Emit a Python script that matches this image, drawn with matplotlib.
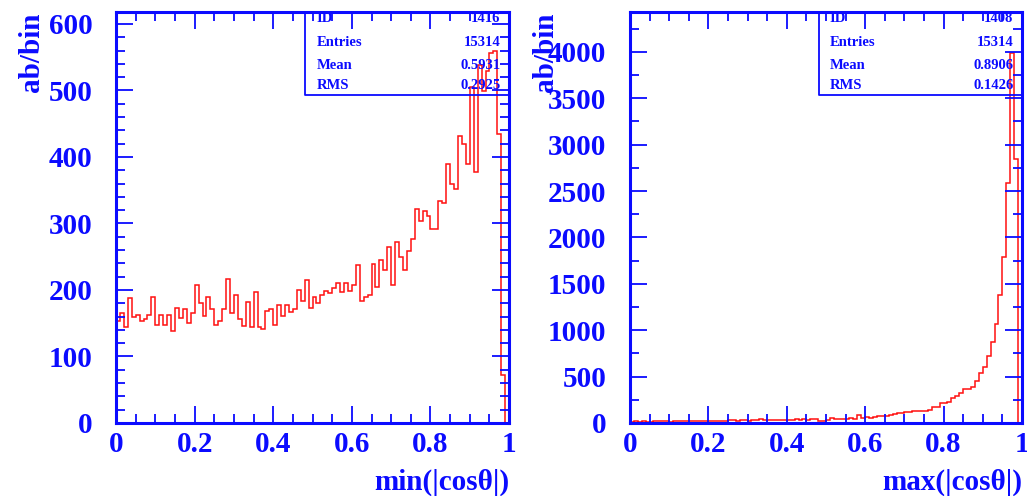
import matplotlib
matplotlib.use("Agg")
import matplotlib.pyplot as plt
import numpy as np
from matplotlib.ticker import MultipleLocator

plt.rcParams["font.family"] = ["Liberation Serif", "DejaVu Serif"]
plt.rcParams["font.weight"] = "bold"

BLUE = "#0b0bff"
RED = "#ff1010"

# 100 bins from 0 to 1
edges = np.linspace(0, 1, 101)

# min(|cos theta|)
min_cos = [153, 165, 145, 188, 160, 162, 153, 157, 163, 189, 148, 163, 148, 163, 138, 173, 158,
           171, 150, 166, 207, 180, 161, 189, 171, 148, 153, 171, 217, 166, 192, 157, 146,
           182, 145, 197, 145, 141, 168, 171, 148, 178, 161, 177, 167, 171, 200, 183, 215,
           173, 190, 180, 193, 198, 195, 203, 210, 197, 211, 198, 207, 238, 184, 189, 193, 239,
           205, 245, 230, 265, 208, 272, 250, 230, 259, 277, 322, 304, 319, 311, 292, 291,
           334, 331, 390, 359, 352, 432, 419, 390, 505, 378, 538, 499, 529, 556, 559, 434, 72, 0]

# max(|cos theta|)
max_cos = [15, 18, 12, 20, 16, 14, 22, 18, 17, 20, 15, 21, 19, 23, 18, 20, 24, 19, 22, 25,
           21, 23, 26, 22, 25,
           28, 35, 24, 27, 30, 26, 33, 29, 38, 27, 30, 35, 31, 34, 29, 36, 32, 38, 35, 40,
           37, 42, 38,
           25, 22, 28, 57, 40, 38, 42, 45, 57, 48, 83, 57, 62, 58, 68, 76, 78, 76, 82, 94,
           105, 105, 118, 122, 125, 128, 130, 132, 135, 173, 173, 219, 219, 225, 273, 292,
           327, 364, 364, 389, 454, 543, 605, 724, 875, 1072, 1379, 1785, 2584, 3988, 2848, 0]

x_ticks = [0, 0.2, 0.4, 0.6, 0.8, 1]
x_ticklabels = ["0", "0.2", "0.4", "0.6", "0.8", "1"]

panels = [
    dict(values=min_cos, xlabel="min(|cos\u03b8|)", ymax=618, ymajor=100, yminor=20,
         stats=[("ID", "1416"), ("Entries", "15314"), ("Mean", "0.5931"), ("RMS", "0.2925")]),
    dict(values=max_cos, xlabel="max(|cos\u03b8|)", ymax=4430, ymajor=500, yminor=250,
         stats=[("ID", "1408"), ("Entries", "15314"), ("Mean", "0.8906"), ("RMS", "0.1426")]),
]

fig = plt.figure(figsize=(10.27, 4.96), dpi=100)
axes_pos = [[0.1130, 0.1472, 0.3827, 0.8286], [0.6134, 0.1472, 0.3817, 0.8286]]

for pos, p in zip(axes_pos, panels):
    ax = fig.add_axes(pos)
    ax.stairs(p["values"], edges, color=RED, linewidth=1.1)
    ax.set_xlim(0, 1)
    ax.set_ylim(0, p["ymax"])

    ax.set_xticks(x_ticks)
    ax.set_xticklabels(x_ticklabels)
    ax.xaxis.set_minor_locator(MultipleLocator(0.05))
    ax.yaxis.set_major_locator(MultipleLocator(p["ymajor"]))
    ax.yaxis.set_minor_locator(MultipleLocator(p["yminor"]))

    for s in ax.spines.values():
        s.set_color(BLUE)
        s.set_linewidth(2.2)

    ax.tick_params(which="both", direction="in", top=True, right=True, colors=BLUE,
                   labelcolor=BLUE)
    ax.tick_params(which="major", length=12, width=1.3, labelsize=21)
    ax.tick_params(which="minor", length=6.5, width=1.3)
    ax.tick_params(axis="y", which="major", pad=17)
    ax.tick_params(axis="x", which="major", pad=6)
    for lab in ax.get_xticklabels() + ax.get_yticklabels():
        lab.set_fontweight("bold")

    # stats box
    bx, by = 0.481, 0.798
    ax.plot([bx, bx, 1], [1, by, by], transform=ax.transAxes, color=BLUE,
            linewidth=1.3, clip_on=False)
    rows_y = [0.985, 0.925, 0.871, 0.82]
    for (name, val), ry in zip(p["stats"], rows_y):
        ax.text(0.51, ry, name, transform=ax.transAxes, color=BLUE, fontsize=10.5,
                fontweight="bold", va="center", ha="left")
        ax.text(0.978, ry, val, transform=ax.transAxes, color=BLUE, fontsize=10.5,
                fontweight="bold", va="center", ha="right")

    ax.set_xlabel(p["xlabel"], color=BLUE, fontsize=21, fontweight="bold")
    ax.xaxis.set_label_coords(1.0, -0.11)
    ax.xaxis.label.set_ha("right")

    ax.text(-0.215, 1.0, "ab/bin", transform=ax.transAxes, rotation=90, color=BLUE,
            fontsize=21, fontweight="bold", ha="center", va="top")

fig.savefig("out.png", dpi=100)
